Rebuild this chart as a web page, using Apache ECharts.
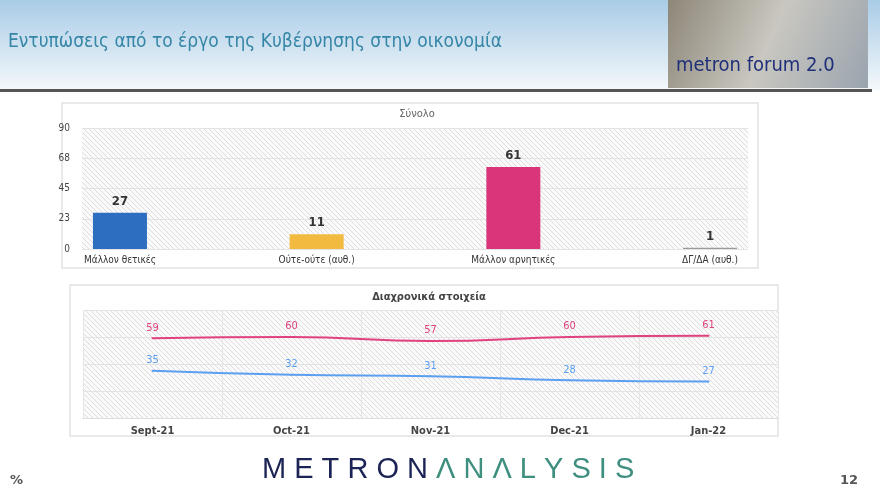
<!DOCTYPE html>
<html><head><meta charset="utf-8">
<script src="https://cdn.jsdelivr.net/npm/echarts@6/dist/echarts.min.js"></script>
<style>html,body{margin:0;padding:0;background:#fff}#c{width:880px;height:495px}</style>
</head><body><div id="c"></div>
<script>
const barCats = ['Μάλλον θετικές','Ούτε-ούτε (αυθ.)','Μάλλον αρνητικές','ΔΓ/ΔΑ (αυθ.)'];
const barValues = [27, 11, 61, 1];
const barColors = ['#2e6ec0','#f2bb3f','#d9357a','#9a9a9a'];
const months = ['Sept-21','Oct-21','Nov-21','Dec-21','Jan-22'];
const negative = [59, 60, 57, 60, 61];
const positive = [35, 32, 31, 28, 27];
const barTicks = [0, 22.5, 45, 67.5, 90];

const F = '"DejaVu Sans Condensed","DejaVu Sans",sans-serif';
const cv = document.createElement('canvas'); cv.width = 5; cv.height = 5;
const g = cv.getContext('2d');
g.fillStyle = '#fafafa'; g.fillRect(0,0,5,5);
g.strokeStyle = '#d6d6d6'; g.lineWidth = 0.8;
g.beginPath(); g.moveTo(0,0); g.lineTo(5,5); g.moveTo(-1,4); g.lineTo(1,6); g.moveTo(4,-1); g.lineTo(6,1); g.stroke();
const hatch = {image: cv, repeat: 'repeat'};

const chart = echarts.init(document.getElementById('c'));
chart.setOption({
  animation: false,
  graphic: [
    {type:'rect', shape:{x:0,y:0,width:880,height:90}, style:{fill:new echarts.graphic.LinearGradient(0,0,0,1,[{offset:0,color:'#a9cce6'},{offset:1,color:'#f4f8fb'}])}, z:-10},
    {type:'rect', shape:{x:0,y:89,width:872,height:3}, style:{fill:'#555'}, z:-9},
    {type:'rect', shape:{x:668,y:0,width:200,height:88}, style:{fill:new echarts.graphic.LinearGradient(0,0,1,1,[{offset:0,color:'#8d8778'},{offset:0.5,color:'#c9c7c0'},{offset:1,color:'#9aa4ae'}])}, z:-8},
    {type:'text', left:676, top:56, style:{text:'metron forum 2.0', font:'20px "DejaVu Sans Condensed",sans-serif', fill:'#1f2f7a'}},
    {type:'text', left:8, top:33, style:{text:'Εντυπώσεις από το έργο της Κυβέρνησης στην οικονομία', font:'19px "DejaVu Sans Condensed","DejaVu Sans",sans-serif', fill:'#3586a6'}},
    {type:'rect', shape:{x:62,y:103,width:696,height:165}, style:{fill:'none', stroke:'#e2e2e2', lineWidth:1.5}, z:-5},
    {type:'rect', shape:{x:70,y:285,width:708,height:151}, style:{fill:'none', stroke:'#e2e2e2', lineWidth:1.5}, z:-5},
    {type:'text', left:262, top:455, style:{rich:{a:{fill:'#1c2455',font:'29px "Liberation Sans","DejaVu Sans",sans-serif'}, b:{fill:'#3e8f7f',font:'29px "Liberation Sans","DejaVu Sans",sans-serif'}}, text:'{a|M E T R O N}{b| Λ N Λ L Y S I S}'}},
    {type:'text', left:10, top:474, style:{text:'%', font:'bold 13px "DejaVu Sans",sans-serif', fill:'#555'}},
    {type:'text', left:840, top:474, style:{text:'12', font:'bold 13px "DejaVu Sans",sans-serif', fill:'#555'}}
  ],
  title: [
    {text:'Σύνολο', left:412, top:104, textAlign:'center', textStyle:{fontFamily:F, fontSize:11, fontWeight:'normal', color:'#666'}},
    {text:'Διαχρονικά στοιχεία', left:424, top:287, textAlign:'center', textStyle:{fontFamily:F, fontSize:11, fontWeight:'bold', color:'#444'}}
  ],
  grid: [
    {left:82, right:132, top:128, height:121, show:true, backgroundColor:hatch, borderWidth:0},
    {left:83, right:102, top:310, height:108, show:true, backgroundColor:hatch, borderWidth:0}
  ],
  xAxis: [
    {gridIndex:0, type:'value', min:-0.193, max:3.193, splitLine:{show:false}, axisLine:{show:false}, axisTick:{show:false},
     axisLabel:{customValues:[0,1,2,3], formatter:v=>barCats[Math.round(v)], fontFamily:F, fontSize:10, color:'#333', margin:6}},
    {gridIndex:1, type:'category', data:months, boundaryGap:true, axisLine:{lineStyle:{color:'#ddd'}}, axisTick:{show:false},
     splitLine:{show:true, lineStyle:{color:'#e6e6e6'}}, axisLabel:{fontFamily:F, fontSize:11, fontWeight:'bold', color:'#444', margin:8}}
  ],
  yAxis: [
    {gridIndex:0, type:'value', min:0, max:90, interval:22.5, axisLine:{show:false}, axisTick:{show:false},
     splitLine:{lineStyle:{color:'#e3e3e3'}}, axisLabel:{customValues:barTicks, formatter:v=>Math.round(v), fontFamily:F, fontSize:10, color:'#444', margin:12}},
    {gridIndex:1, type:'value', min:0, max:80, interval:20, axisLine:{show:false}, axisTick:{show:false}, axisLabel:{show:false},
     splitLine:{lineStyle:{color:'#e3e3e3'}}}
  ],
  series: [
    {type:'bar', xAxisIndex:0, yAxisIndex:0, barWidth:54,
     data: barValues.map((v,i)=>({value:[i,v], itemStyle:{color:barColors[i]}})),
     label:{show:true, position:'top', formatter:p=>p.value[1], fontFamily:F, fontSize:13, fontWeight:'bold', color:'#333'}},
    {type:'line', xAxisIndex:1, yAxisIndex:1, data:negative, smooth:true, symbol:'circle', symbolSize:2, showSymbol:true,
     itemStyle:{color:'#e0417f'}, lineStyle:{color:'#e0417f', width:2},
     label:{show:true, position:'top', distance:4, fontFamily:F, fontSize:11, color:'#e0417f'}},
    {type:'line', xAxisIndex:1, yAxisIndex:1, data:positive, smooth:true, symbol:'circle', symbolSize:2, showSymbol:true,
     itemStyle:{color:'#5b9ff0'}, lineStyle:{color:'#5b9ff0', width:2},
     label:{show:true, position:'top', distance:4, fontFamily:F, fontSize:11, color:'#5b9ff0'}}
  ]
});
</script></body></html>
